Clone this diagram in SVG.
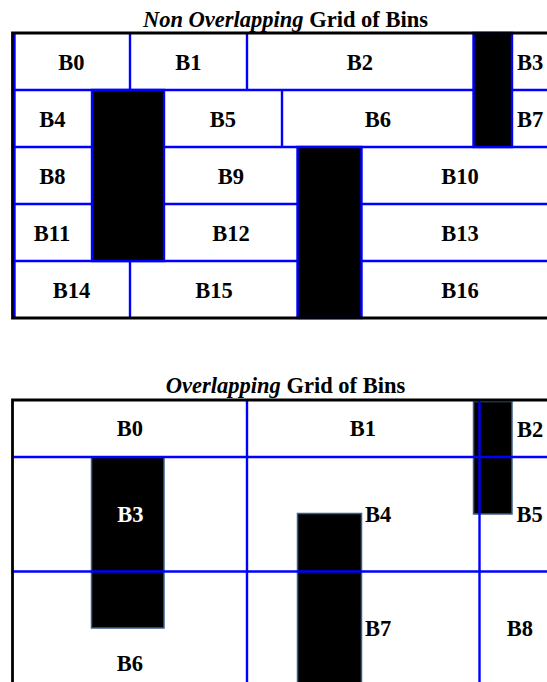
<svg xmlns="http://www.w3.org/2000/svg" width="547" height="682" viewBox="0 0 547 682">
<style>
text{font-family:"Liberation Serif","Times New Roman",serif;font-weight:bold;font-size:22.5px;fill:#000}
.c{text-anchor:middle}
.w{fill:#fff}
.it{font-style:italic}
.grid{stroke:#0000ff;stroke-width:2.4;fill:none}
.frame{stroke:#000;stroke-width:2.8;fill:none}
.blk{fill:#000;stroke:#0000ff;stroke-width:2.4}
.blk2{fill:#000;stroke:#3b5f8c;stroke-width:1.5}
</style>
<rect width="547" height="682" fill="#fff"/>

<!-- Top diagram -->
<text class="c" x="285.5" y="27"><tspan class="it">Non Overlapping</tspan> Grid of Bins</text>
<g id="top-grid-lines">
  <line class="grid" x1="14.5" y1="33" x2="14.5" y2="318"/>
  <line class="grid" x1="13" y1="90" x2="560" y2="90"/>
  <line class="grid" x1="13" y1="147" x2="560" y2="147"/>
  <line class="grid" x1="13" y1="204" x2="560" y2="204"/>
  <line class="grid" x1="13" y1="261" x2="560" y2="261"/>
  <line class="grid" x1="130" y1="33" x2="130" y2="90"/>
  <line class="grid" x1="247" y1="33" x2="247" y2="90"/>
  <line class="grid" x1="282" y1="90" x2="282" y2="147"/>
  <line class="grid" x1="130" y1="261" x2="130" y2="318"/>
</g>
<g id="top-obstacles">
  <rect class="blk" x="473.5" y="33" width="38.5" height="114"/>
  <rect class="blk" x="92" y="90" width="72" height="171"/>
  <rect class="blk" x="297.5" y="147" width="64" height="171"/>
</g>
<g id="top-frame">
  <polyline class="frame" points="560,33 12.5,33 12.5,318 560,318"/>
</g>
<g id="top-bins">
  <g id="tB0"><text class="c" x="71.5" y="70">B0</text></g>
  <g id="tB1"><text class="c" x="188.5" y="70">B1</text></g>
  <g id="tB2"><text class="c" x="360" y="70">B2</text></g>
  <g id="tB3"><text x="517" y="70">B3</text></g>
  <g id="tB4"><text class="c" x="52.5" y="127">B4</text></g>
  <g id="tB5"><text class="c" x="223" y="127">B5</text></g>
  <g id="tB6"><text class="c" x="378" y="127">B6</text></g>
  <g id="tB7"><text x="517" y="127">B7</text></g>
  <g id="tB8"><text class="c" x="52.5" y="184">B8</text></g>
  <g id="tB9"><text class="c" x="231" y="184">B9</text></g>
  <g id="tB10"><text class="c" x="460" y="184">B10</text></g>
  <g id="tB11"><text class="c" x="52" y="241">B11</text></g>
  <g id="tB12"><text class="c" x="231" y="241">B12</text></g>
  <g id="tB13"><text class="c" x="460" y="241">B13</text></g>
  <g id="tB14"><text class="c" x="71.5" y="298">B14</text></g>
  <g id="tB15"><text class="c" x="214" y="298">B15</text></g>
  <g id="tB16"><text class="c" x="460" y="298">B16</text></g>
</g>

<!-- Bottom diagram -->
<text class="c" x="285.5" y="392.5"><tspan class="it">Overlapping</tspan> Grid of Bins</text>
<g id="bottom-obstacles">
  <rect class="blk2" x="91.5" y="457" width="72.5" height="171"/>
  <rect class="blk2" x="297.5" y="513.5" width="64" height="175"/>
  <rect class="blk2" x="473.5" y="401.5" width="38.5" height="112.5"/>
</g>
<g id="bottom-grid-lines">
  <line class="grid" x1="13" y1="457" x2="560" y2="457"/>
  <line class="grid" x1="13" y1="571.5" x2="560" y2="571.5"/>
  <line class="grid" x1="247" y1="400" x2="247" y2="690"/>
  <line class="grid" x1="479.5" y1="400" x2="479.5" y2="690"/>
</g>
<g id="bottom-frame">
  <polyline class="frame" points="560,400 12.5,400 12.5,690"/>
</g>
<g id="bottom-bins">
  <g id="bB0"><text class="c" x="130" y="436">B0</text></g>
  <g id="bB1"><text class="c" x="363" y="436">B1</text></g>
  <g id="bB2"><text x="517" y="436.5">B2</text></g>
  <g id="bB3"><text class="c w" x="130.5" y="522">B3</text></g>
  <g id="bB4"><text x="365" y="522">B4</text></g>
  <g id="bB5"><text x="516.5" y="522">B5</text></g>
  <g id="bB6"><text class="c" x="130" y="670.5">B6</text></g>
  <g id="bB7"><text x="365" y="636">B7</text></g>
  <g id="bB8"><text class="c" x="520" y="636">B8</text></g>
</g>
</svg>
